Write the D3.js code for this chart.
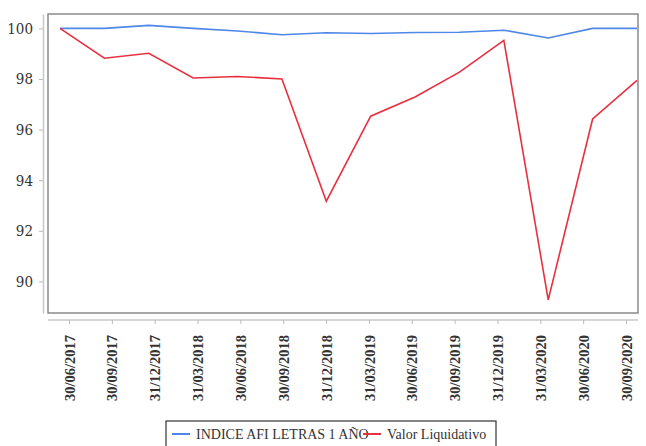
<!DOCTYPE html>
<html>
<head>
<meta charset="UTF-8">
<script src="https://d3js.org/d3.v7.min.js"></script>
<style>
  body { margin: 0; background: #fff; }
  text { font-family: "Liberation Serif", serif; fill: #333; }
</style>
</head>
<body>
<div id="chart"></div>
<script>
// data
var dates = ["30/06/2017", "30/09/2017", "31/12/2017", "31/03/2018", "30/06/2018", "30/09/2018",
  "31/12/2018", "31/03/2019", "30/06/2019", "30/09/2019", "31/12/2019", "31/03/2020",
  "30/06/2020", "30/09/2020"];
var indice = [100, 100, 100.12, 100, 99.9, 99.75, 99.83, 99.8, 99.84, 99.85, 99.93, 99.62, 100, 100];
var valor = [100, 98.82, 99.02, 98.04, 98.1, 98.0, 93.17, 96.53, 97.29, 98.27, 99.53, 89.27, 96.42, 97.95];
var yTicks = [90, 92, 94, 96, 98, 100];
var seriesNames = ["INDICE AFI LETRAS 1 AÑO", "Valor Liquidativo"];
var colors = ["#4f87e8", "#e8303f"];

var W = 646, H = 446;
var frame = { left: 48, right: 638, top: 14, bottom: 313 };

var svg = d3.select("#chart").append("svg").attr("width", W).attr("height", H);

var y = d3.scaleLinear().domain([88.75, 100.57]).range([frame.bottom, frame.top]);
// data points and axis ticks are not quite aligned in the original
var xData = d3.scalePoint().domain(dates).range([60, 637]);
var xAxisScale = d3.scalePoint().domain(dates).range([69, 626]);

// frame
svg.append("rect")
  .attr("x", frame.left).attr("y", frame.top)
  .attr("width", frame.right - frame.left).attr("height", frame.bottom - frame.top)
  .attr("fill", "none").attr("stroke", "#8a8a8a").attr("stroke-width", 1.5);

// y axis
var yAxis = svg.append("g")
  .attr("transform", "translate(43,0)")
  .call(d3.axisLeft(y).tickValues(yTicks).tickSize(4).tickSizeOuter(0).tickPadding(6));
yAxis.attr("font-family", null);
yAxis.select(".domain").attr("stroke", "#c8c8c8").attr("stroke-width", 1.5);
yAxis.selectAll(".tick line").attr("stroke", "#bbb");
yAxis.selectAll("text").style("font-size", "15px")
  .style("font-family", "'DejaVu Serif Condensed'").attr("fill", "#333");

// x axis
var xAxis = svg.append("g")
  .attr("transform", "translate(0,320)")
  .call(d3.axisBottom(xAxisScale).tickSize(4).tickSizeOuter(0));
xAxis.attr("font-family", null);
xAxis.select(".domain").attr("d", "M" + frame.left + ",0H" + frame.right)
  .attr("stroke", "#c8c8c8").attr("stroke-width", 1.5);
xAxis.selectAll(".tick line").attr("stroke", "#bbb");
xAxis.selectAll("text")
  .style("font-size", "14.5px").style("font-weight", "bold").attr("fill", "#333")
  .attr("text-anchor", "end")
  .attr("transform", "rotate(-90)")
  .attr("x", -15).attr("y", 0).attr("dy", "0.35em");

// lines
var line = d3.line().x(function (d, i) { return xData(dates[i]); }).y(function (d) { return y(d); });
[indice, valor].forEach(function (s, k) {
  svg.append("path").datum(s)
    .attr("fill", "none").attr("stroke", colors[k]).attr("stroke-width", 1.6)
    .attr("d", line);
});

// legend
var lg = svg.append("g").attr("transform", "translate(166,421)");
lg.append("rect").attr("width", 330).attr("height", 30)
  .attr("fill", "#fff").attr("stroke", "#333").attr("stroke-width", 1.2);
var legendX = [6, 197];
seriesNames.forEach(function (n, k) {
  lg.append("line").attr("x1", legendX[k]).attr("x2", legendX[k] + 18)
    .attr("y1", 13).attr("y2", 13).attr("stroke", colors[k]).attr("stroke-width", 2);
  lg.append("text").attr("x", legendX[k] + 24).attr("y", 18)
    .style("font-size", "14px")
    .text(n);
});
</script>
</body>
</html>
